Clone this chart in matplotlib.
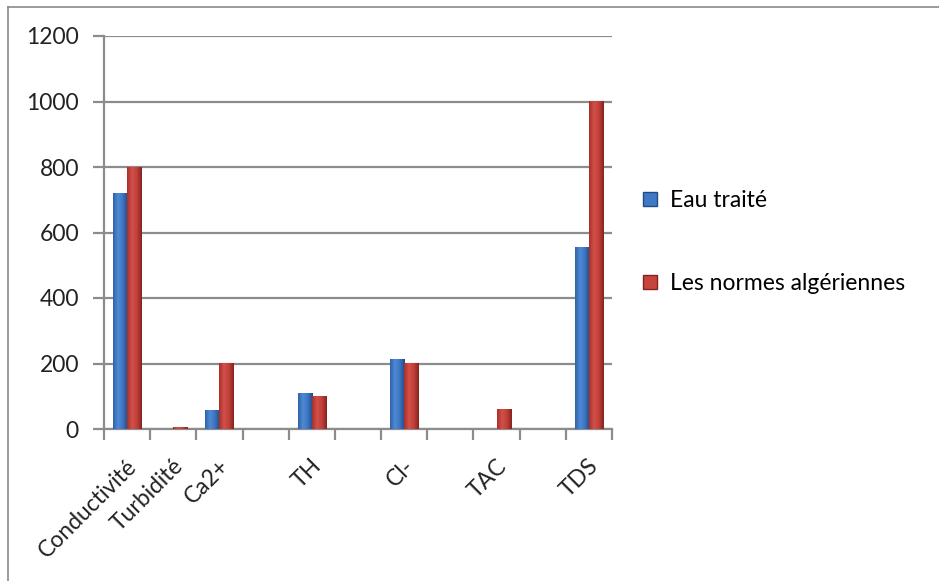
import numpy as np
import matplotlib
matplotlib.use("Agg")
import matplotlib.pyplot as plt
from matplotlib.colors import LinearSegmentedColormap
from matplotlib.patches import Patch
from matplotlib.lines import Line2D
import matplotlib.transforms as mtransforms

# ---- data ----
categories = ["Conductivité", "Turbidité", "Ca2+", "", "TH", "", "Cl-", "", "TAC", "", "TDS"]
eau_traite = [720, 0, 56, np.nan, 107, np.nan, 212, np.nan, 0, np.nan, 553]
normes = [800, 5, 200, np.nan, 100, np.nan, 200, np.nan, 60, np.nan, 1000]
series_names = ["Eau traité", "Les normes algériennes"]
y_ticks = [0, 200, 400, 600, 800, 1000, 1200]

plt.rcParams['font.family'] = ['Lato', 'DejaVu Sans']
FS = 16.5

W, H = 939, 581
fig = plt.figure(figsize=(W / 100, H / 100), dpi=100)
L, R, T, B = 104, 612, 36, 429
ax = fig.add_axes([L / W, 1 - B / H, (R - L) / W, (B - T) / H])

blue_cmap = LinearSegmentedColormap.from_list(
    "b", ["#2f62a6", "#4f8ad6", "#3c74bf", "#1f4b87"])
red_cmap = LinearSegmentedColormap.from_list(
    "r", ["#a8302b", "#d2504a", "#c2403a", "#86221e"])
grad = np.linspace(0, 1, 64).reshape(1, -1)

bw = 0.31
x = np.arange(len(categories))
for vals, cmap, off in [(eau_traite, blue_cmap, -bw / 2),
                        (normes, red_cmap, bw / 2)]:
    for xi, v in zip(x, vals):
        if np.isnan(v) or v <= 0:
            continue
        x0, x1 = xi + off - bw / 2, xi + off + bw / 2
        ax.imshow(grad, cmap=cmap, extent=[x0, x1, 0, v], aspect='auto',
                  zorder=3, interpolation='bilinear')

ax.set_xlim(-0.5, len(categories) - 0.5)
ax.set_ylim(0, 1200)

grid_c = "#8c8c8c"
ax.set_yticks(y_ticks)
ax.set_yticklabels([str(t) for t in y_ticks], fontsize=FS, color="#222222")
ax.yaxis.grid(True, color=grid_c, linewidth=1.6, zorder=1)
ax.set_axisbelow(True)
ax.tick_params(axis='y', direction='out', length=8, width=1.6, color=grid_c, pad=10)

# category labels at centres, tick marks at boundaries
ax.set_xticks(x)
ax.set_xticklabels(categories, fontsize=FS, rotation=45, ha='right',
                   rotation_mode='anchor', color="#222222")
ax.tick_params(axis='x', which='major', length=0, pad=19)
ax.set_xticks(np.arange(-0.5, len(categories)), minor=True)
ax.tick_params(axis='x', which='minor', direction='out', length=8, width=1.6, color=grid_c)
offset = mtransforms.ScaledTranslation(-1 / 100, 0, fig.dpi_scale_trans)
for lbl in ax.get_xticklabels():
    lbl.set_transform(lbl.get_transform() + offset)

for s in ["top", "right"]:
    ax.spines[s].set_visible(False)
for s in ["left", "bottom"]:
    ax.spines[s].set_color(grid_c)
    ax.spines[s].set_linewidth(1.6)

handles = [Patch(facecolor="#3f78c4", edgecolor="#1f4b87"),
           Patch(facecolor="#c8433d", edgecolor="#86221e")]
fig.legend(handles, series_names, loc='center left',
           bbox_to_anchor=(643 / W, 1 - 242 / H), frameon=False,
           fontsize=FS, handlelength=0.6, handleheight=0.6,
           handletextpad=0.6, labelspacing=2.7, borderpad=0, borderaxespad=0)

# outer chart border
fig.add_artist(Line2D([8 / W, 8 / W], [0, 1 - 7 / H], transform=fig.transFigure,
                      color="#8a8a8a", linewidth=1.2))
fig.add_artist(Line2D([8 / W, 1], [1 - 7 / H, 1 - 7 / H], transform=fig.transFigure,
                      color="#8a8a8a", linewidth=1.2))

fig.savefig("out.png", dpi=100)
